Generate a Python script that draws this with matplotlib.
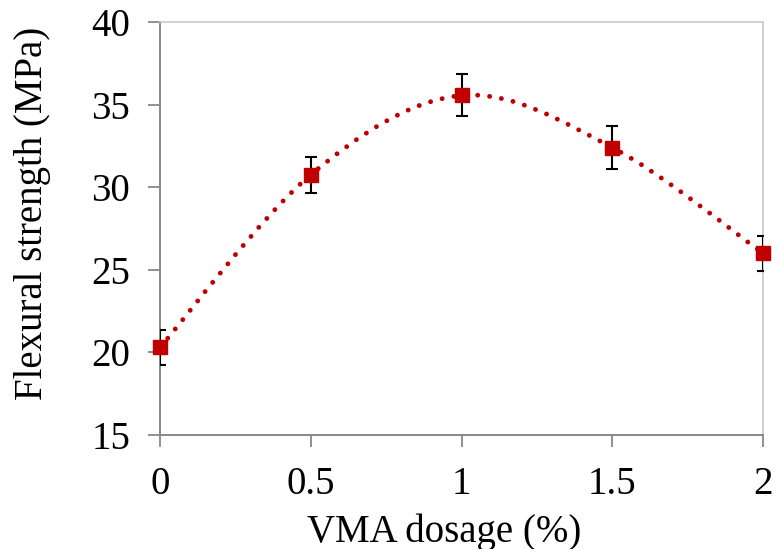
import matplotlib
matplotlib.use("Agg")
import matplotlib.pyplot as plt
from matplotlib.path import Path
from matplotlib.patches import PathPatch

dosage = [0, 0.5, 1, 1.5, 2]
strength = [20.3, 30.75, 35.55, 32.4, 26.0]
err = [1.05, 1.1, 1.27, 1.33, 1.05]

x_ticks = [0, 0.5, 1, 1.5, 2]
x_labels = ["0", "0.5", "1", "1.5", "2"]
y_ticks = [15, 20, 25, 30, 35, 40]

red = "#C00000"

plt.rcParams["font.family"] = ["Liberation Serif", "DejaVu Serif"]

fig = plt.figure(figsize=(7.79, 5.49), dpi=100)
ax = fig.add_axes([0.2054, 0.2077, 0.7741, 0.7523])

# excel style smoothed line (catmull-rom bezier through the points)
pts = list(zip(dosage, strength))
verts = [pts[0]]
codes = [Path.MOVETO]
n = len(pts)
for i in range(n - 1):
    p0 = pts[i - 1] if i > 0 else pts[i]
    p1 = pts[i]
    p2 = pts[i + 1]
    p3 = pts[i + 2] if i + 2 < n else pts[i + 1]
    c1 = (p1[0] + (p2[0] - p0[0]) / 6, p1[1] + (p2[1] - p0[1]) / 6)
    c2 = (p2[0] - (p3[0] - p1[0]) / 6, p2[1] - (p3[1] - p1[1]) / 6)
    verts += [c1, c2, p2]
    codes += [Path.CURVE4] * 3
curve = PathPatch(Path(verts, codes), fill=False, edgecolor=red, linewidth=3.5,
                  linestyle=(0, (0.01, 2.45)), capstyle="round", zorder=2)
ax.add_patch(curve)

ax.errorbar(dosage, strength, yerr=err, fmt="none", ecolor="black",
            elinewidth=1.5, capsize=4.5, capthick=1.5, zorder=3)
ax.plot(dosage, strength, linestyle="none", marker="s", markersize=10.5,
        color=red, zorder=4, clip_on=False)

ax.set_xlim(0, 2)
ax.set_ylim(15, 40)
ax.set_xticks(x_ticks)
ax.set_xticklabels(x_labels)
ax.set_yticks(y_ticks)

ax.tick_params(axis="both", labelsize=28, length=8.5, width=1.3,
               color="#888888", direction="out")
ax.tick_params(axis="x", pad=14)
ax.tick_params(axis="y", pad=13)

for side in ["left", "bottom"]:
    ax.spines[side].set_color("#888888")
    ax.spines[side].set_linewidth(1.4)
for side in ["top", "right"]:
    ax.spines[side].set_color("#c8c8c8")
    ax.spines[side].set_linewidth(1.2)

ax.set_xlabel("VMA dosage (%)", fontsize=28)
ax.set_ylabel("Flexural strength (MPa)", fontsize=28)
ax.xaxis.set_label_coords(0.471, -0.19)
ax.yaxis.set_label_coords(-0.18, 0.537)

fig.savefig("out.png", dpi=100)
